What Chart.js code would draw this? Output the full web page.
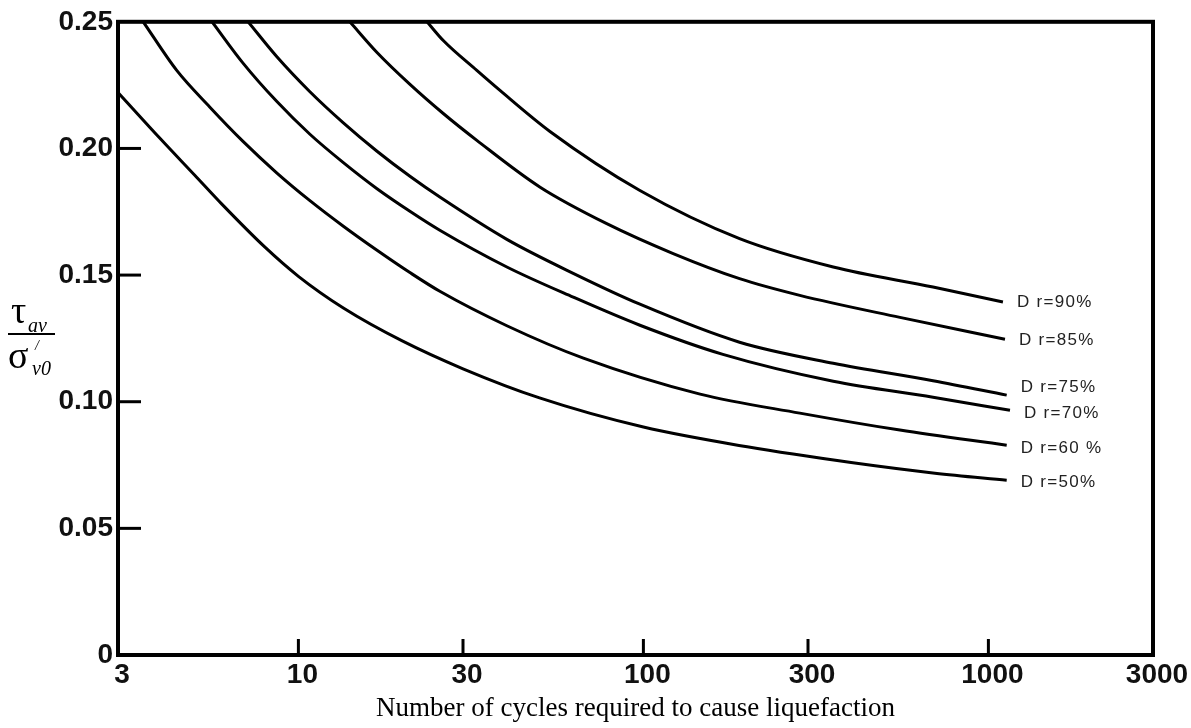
<!DOCTYPE html>
<html>
<head>
<meta charset="utf-8">
<script src="https://cdn.jsdelivr.net/npm/chart.js@4.4.1/dist/chart.umd.min.js"></script>
<style>
html,body{margin:0;padding:0;background:#fff;}
#wrap{position:relative;width:1191px;height:728px;overflow:hidden;}
#c{position:absolute;left:0;top:0;}
.yt{position:absolute;font-family:"Liberation Serif","Times New Roman",serif;color:#000;line-height:1;white-space:nowrap;}
.fr{position:absolute;left:8px;top:333px;width:47px;height:2px;background:#000;}
</style>
</head>
<body>
<div id="wrap">
<canvas id="c" width="1191" height="728"></canvas>
<span class="yt" style="left:11px;top:291px;font-size:38px;">τ</span>
<span class="yt" style="left:28px;top:315px;font-size:20px;font-style:italic;">av</span>
<div class="fr"></div>
<span class="yt" style="left:8px;top:336px;font-size:38px;">σ</span>
<span class="yt" style="left:35px;top:339px;font-size:14px;font-style:italic;">/</span>
<span class="yt" style="left:32px;top:358px;font-size:20px;font-style:italic;">v0</span>
</div>
<script>
// ---- data ----
const cycleTicks = [3, 10, 30, 100, 300, 1000, 3000];
const cycleTickLabels = ['3', '10', '30', '100', '300', '1000', '3000'];
const ratioTicks = [0, 0.05, 0.10, 0.15, 0.20, 0.25];
const ratioTickLabels = ['0', '0.05', '0.10', '0.15', '0.20', '0.25'];
const seriesNames = ['D r=90%', 'D r=85%', 'D r=75%', 'D r=70%', 'D r=60 %', 'D r=50%'];
const xTitle = 'Number of cycles required to cause liquefaction';

const dr90N = [23.6, 26.3, 32.9, 38.4, 53.6, 97.7, 190, 355, 691, 1102];
const dr90V = [0.25, 0.2426, 0.2308, 0.2229, 0.2067, 0.1834, 0.1644, 0.1532, 0.1453, 0.1394];

const dr85N = [14.1, 16.9, 21.1, 26.3, 32.9, 50.2, 78.3, 122, 190, 284, 554, 1117];
const dr85V = [0.25, 0.2379, 0.2252, 0.2138, 0.2032, 0.1847, 0.1703, 0.1585, 0.1486, 0.1420, 0.1333, 0.1247];

const dr75N = [7.15, 8.65, 10.8, 13.5, 16.9, 21.1, 25.7, 40.2, 62.6, 97.7, 190, 355, 691, 1130];
const dr75V = [0.25, 0.2363, 0.2224, 0.2101, 0.1989, 0.1889, 0.1808, 0.1641, 0.1507, 0.1385, 0.1235, 0.1152, 0.1083, 0.1026];

const dr70N = [5.62, 6.91, 8.65, 10.8, 13.5, 16.9, 21.1, 25.7, 40.2, 62.6, 97.7, 170, 355, 691, 1155];
const dr70V = [0.25, 0.2337, 0.2186, 0.2056, 0.1944, 0.1841, 0.1751, 0.1677, 0.1532, 0.1413, 0.1302, 0.1187, 0.1081, 0.1018, 0.0966];

const dr60N = [3.55, 4.44, 5.54, 6.91, 8.65, 10.8, 13.5, 16.9, 21.1, 25.7, 40.2, 67.0, 146, 284, 554, 1130];
const dr60V = [0.25, 0.2308, 0.2163, 0.2028, 0.1904, 0.1794, 0.1693, 0.1598, 0.1509, 0.1436, 0.1300, 0.1172, 0.1030, 0.0955, 0.0888, 0.0828];

const dr50N = [3, 4, 5, 6, 8, 10, 13.5, 20, 30, 50, 100, 200, 400, 700, 1130];
const dr50V = [0.2221, 0.2035, 0.1895, 0.1780, 0.1610, 0.1495, 0.1370, 0.1240, 0.1130, 0.1015, 0.0900, 0.0822, 0.0760, 0.0718, 0.0690];

const seriesN = [dr90N, dr85N, dr75N, dr70N, dr60N, dr50N];
const seriesV = [dr90V, dr85V, dr75V, dr70V, dr60V, dr50V];

// ---- styling (not data) ----
const labelDy = [0, 1, -8, 3, 3, 2];
const AXIS_FONT = {family: '"Liberation Sans", Arial, sans-serif', size: 28, weight: 'bold'};

const datasets = seriesNames.map((name, i) => ({
  label: name,
  data: seriesN[i].map((n, j) => ({x: n, y: seriesV[i][j]})),
  borderColor: '#000',
  borderWidth: 3,
  pointRadius: 0,
  fill: false,
  tension: 0.4,
  cubicInterpolationMode: 'monotone',
  labelDy: labelDy[i]
}));

const decorPlugin = {
  id: 'decor',
  afterDraw(chart) {
    const ctx = chart.ctx;
    const a = chart.chartArea;
    const xs = chart.scales.x, ys = chart.scales.y;
    ctx.save();
    ctx.strokeStyle = '#000';
    ctx.lineWidth = 4;
    ctx.strokeRect(a.left, a.top, a.right - a.left, a.bottom - a.top);
    ctx.lineWidth = 3;
    cycleTicks.forEach(v => {
      if (v === cycleTicks[0] || v === cycleTicks[cycleTicks.length - 1]) return;
      const px = xs.getPixelForValue(v);
      ctx.beginPath();
      ctx.moveTo(px, a.bottom);
      ctx.lineTo(px, a.bottom - 16);
      ctx.stroke();
    });
    ratioTicks.forEach(v => {
      if (v === ratioTicks[0] || v === ratioTicks[ratioTicks.length - 1]) return;
      const py = ys.getPixelForValue(v);
      ctx.beginPath();
      ctx.moveTo(a.left, py);
      ctx.lineTo(a.left + 23, py);
      ctx.stroke();
    });
    ctx.fillStyle = '#222';
    ctx.font = '17px "Liberation Sans", Arial, sans-serif';
    ctx.textBaseline = 'middle';
    ctx.textAlign = 'left';
    try { ctx.letterSpacing = '1.3px'; } catch (e) {}
    chart.data.datasets.forEach((ds, i) => {
      const meta = chart.getDatasetMeta(i);
      const last = meta.data[meta.data.length - 1];
      ctx.fillText(ds.label, last.x + 14, last.y + ds.labelDy);
    });
    ctx.restore();
  }
};

new Chart(document.getElementById('c'), {
  type: 'line',
  data: {datasets},
  plugins: [decorPlugin],
  options: {
    responsive: false,
    animation: false,
    devicePixelRatio: 1,
    layout: {padding: {left: 0, right: 38, top: 21, bottom: 0}},
    plugins: {legend: {display: false}, tooltip: {enabled: false}},
    scales: {
      x: {
        type: 'logarithmic',
        min: 3, max: 3000,
        afterBuildTicks: s => { s.ticks = cycleTicks.map(v => ({value: v})); },
        afterFit: s => { s.height = 73; },
        grid: {display: false, drawTicks: false},
        border: {display: false},
        ticks: {
          autoSkip: false, maxRotation: 0, padding: 3, labelOffset: 4,
          color: '#111', font: AXIS_FONT,
          callback: (v, i) => cycleTickLabels[i]
        },
        title: {
          display: true, text: xTitle, color: '#000',
          font: {family: '"Liberation Serif", "Times New Roman", serif', size: 27},
          padding: {top: 0, bottom: 3}
        }
      },
      y: {
        type: 'linear',
        min: 0, max: 0.25,
        afterBuildTicks: s => { s.ticks = ratioTicks.map(v => ({value: v})); },
        afterFit: s => { s.width = 118; },
        grid: {display: false, drawTicks: false},
        border: {display: false},
        ticks: {
          autoSkip: false, padding: 5,
          color: '#111', font: AXIS_FONT,
          callback: (v, i) => ratioTickLabels[i]
        }
      }
    }
  }
});
</script>
</body>
</html>
